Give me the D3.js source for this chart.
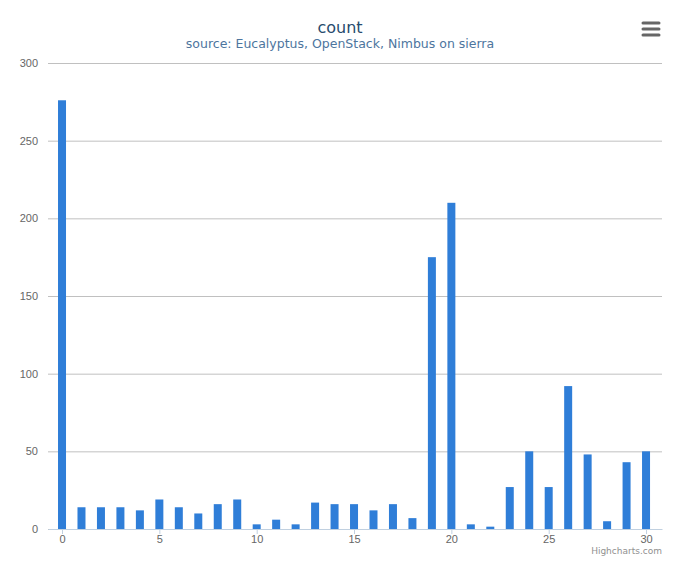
<!DOCTYPE html>
<html>
<head>
<meta charset="utf-8">
<script src="https://cdn.jsdelivr.net/npm/d3@7"></script>
<style>
  body { margin: 0; background: #fff; }
  svg { font-family: "DejaVu Sans", Verdana, sans-serif; }
</style>
</head>
<body>
<svg id="chart"></svg>
<script>
// bar values, one per x from 0 to 30
const categories = d3.range(0, 31);
const counts = [276, 14, 14, 14, 12, 19, 14, 10, 16, 19, 3, 6, 3, 17, 16, 16,
                12, 16, 7, 175, 210, 3, 1.5, 27, 50, 27, 92, 48, 5, 43, 50];
const yTicks = [0, 50, 100, 150, 200, 250, 300];
const xTicks = [0, 5, 10, 15, 20, 25, 30];

const svgWidth = 680;
const svgHeight = 566;
const marginLeft = 48;
const marginRight = 18;
const marginTop = 63;
const plotBottom = 529;

const svg = d3.select("#chart")
  .attr("width", svgWidth)
  .attr("height", svgHeight);

// x is linear, with a bit of padding past 0 and 30
const x = d3.scaleLinear()
  .domain([-0.72, 30.82])
  .range([marginLeft, svgWidth - marginRight]);

const y = d3.scaleLinear()
  .domain([0, 300])
  .range([plotBottom, marginTop]);

// title and subtitle
svg.append("text")
  .attr("x", svgWidth / 2)
  .attr("y", 33)
  .attr("text-anchor", "middle")
  .attr("fill", "#274b6d")
  .style("font-size", "16px")
  .text("count");

svg.append("text")
  .attr("x", svgWidth / 2)
  .attr("y", 48)
  .attr("text-anchor", "middle")
  .attr("fill", "#4d759e")
  .style("font-size", "12.5px")
  .text("source: Eucalyptus, OpenStack, Nimbus on sierra");

// y axis with grid lines
svg.append("g")
  .attr("transform", "translate(" + marginLeft + ",0)")
  .attr("color", "#666")
  .call(d3.axisLeft(y).tickValues(yTicks).tickSize(0).tickPadding(10))
  .call(g => g.select(".domain").remove())
  .call(g => g.selectAll(".tick line").clone()
    .attr("x2", svgWidth - marginRight - marginLeft)
    .attr("stroke", "#c0c0c0"))
  .call(g => g.selectAll(".tick text")
    .style("font-size", "11px"));

// bars
svg.append("g")
  .selectAll("rect")
  .data(categories)
  .join("rect")
  .attr("x", d => x(d) - 4)
  .attr("y", d => y(counts[d]))
  .attr("width", 8)
  .attr("height", d => y(0) - y(counts[d]))
  .attr("fill", "#2f7ed8");

// x axis
svg.append("g")
  .attr("transform", "translate(0," + plotBottom + ")")
  .attr("color", "#666")
  .call(d3.axisBottom(x).tickValues(xTicks).tickSize(5).tickSizeOuter(0).tickPadding(1))
  .call(g => g.select(".domain").attr("stroke", "#c0d0e0"))
  .call(g => g.selectAll(".tick line").attr("stroke", "#c0d0e0"))
  .call(g => g.selectAll(".tick text")
    .style("font-size", "11px"));

// menu icon
const menu = svg.append("g").attr("transform", "translate(651,29)");
[-6, 0, 6].forEach(dy => {
  menu.append("line")
    .attr("x1", -8).attr("x2", 8)
    .attr("y1", dy).attr("y2", dy)
    .attr("stroke", "#666")
    .attr("stroke-width", 3)
    .attr("stroke-linecap", "round");
});

// credits
svg.append("text")
  .attr("x", 662)
  .attr("y", 554)
  .attr("text-anchor", "end")
  .attr("fill", "#909090")
  .style("font-size", "9px")
  .text("Highcharts.com");
</script>
</body>
</html>
